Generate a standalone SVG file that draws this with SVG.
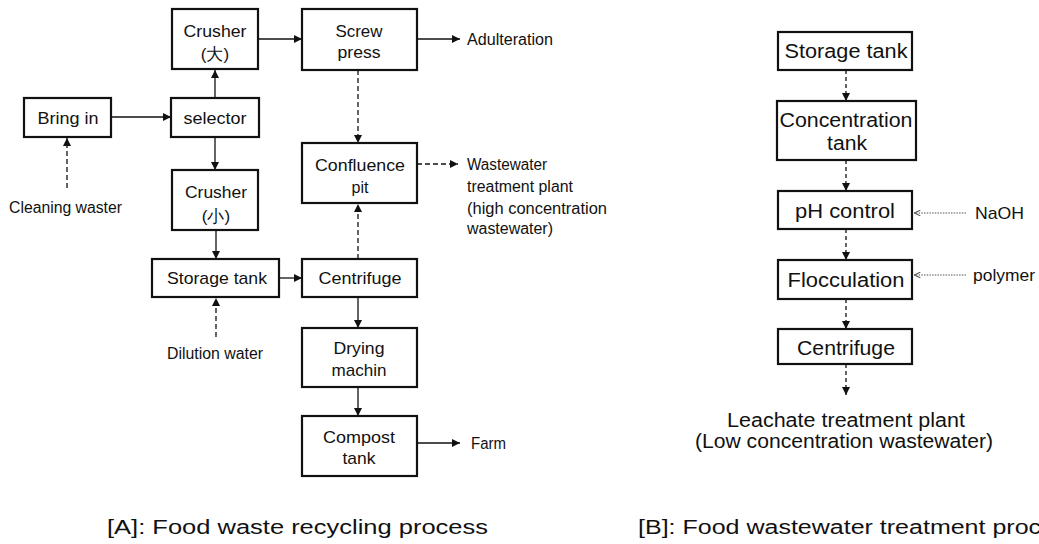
<svg xmlns="http://www.w3.org/2000/svg" width="1039" height="544" viewBox="0 0 1039 544">
<style>
  .box { fill: #fff; stroke: #111; stroke-width: 2.2; }
  .t { font-family: "Liberation Sans", Arial, sans-serif; font-size: 17px; fill: #111; text-anchor: middle; }
  .tb { font-family: "Liberation Sans", Arial, sans-serif; font-size: 20px; fill: #111; text-anchor: middle; }
  .lbl { font-family: "Liberation Sans", Arial, sans-serif; font-size: 16px; fill: #111; }
  .lblb { font-family: "Liberation Sans", Arial, sans-serif; font-size: 17px; fill: #111; }
  .cap { font-family: "Liberation Sans", Arial, sans-serif; font-size: 20px; fill: #111; }
  .ln { fill: none; stroke: #111; stroke-width: 1.3; marker-end: url(#ah); }
  .dash { fill: none; stroke: #111; stroke-width: 1.3; stroke-dasharray: 5 3; marker-end: url(#ah); }
  .dashb { fill: none; stroke: #111; stroke-width: 1.3; stroke-dasharray: 4 3; marker-end: url(#ah); }
  .dot { fill: none; stroke: #555; stroke-width: 1; stroke-dasharray: 1.5 1.2; marker-end: url(#ahs); }
</style>
<defs>
  <marker id="ah" viewBox="0 0 10 10" refX="10" refY="5" markerWidth="9" markerHeight="8" markerUnits="userSpaceOnUse" orient="auto">
    <path d="M0,0 L10,5 L0,10 z" fill="#111"/>
  </marker>
  <marker id="ahs" viewBox="0 0 10 10" refX="10" refY="5" markerWidth="7" markerHeight="7" markerUnits="userSpaceOnUse" orient="auto">
    <path d="M1,1 L10,5 L1,9" fill="none" stroke="#555" stroke-width="1.5"/>
  </marker>
</defs>

<g id="connectors">
  <!-- Part A -->
  <line class="ln" x1="111" y1="117" x2="171" y2="117"/>
  <line class="ln" x1="215" y1="98" x2="215" y2="70"/>
  <line class="ln" x1="215" y1="137" x2="215" y2="170"/>
  <line class="ln" x1="258" y1="39" x2="302" y2="39"/>
  <line class="ln" x1="417" y1="39" x2="460" y2="39"/>
  <line class="dash" x1="67" y1="188" x2="67" y2="138"/>
  <line class="dash" x1="358" y1="70" x2="358" y2="143"/>
  <line class="dash" x1="417" y1="164" x2="458" y2="164"/>
  <line class="ln" x1="216" y1="230" x2="216" y2="259"/>
  <line class="dash" x1="216" y1="337" x2="216" y2="298"/>
  <line class="ln" x1="279" y1="278" x2="302" y2="278"/>
  <line class="dash" x1="358" y1="259" x2="358" y2="204"/>
  <line class="ln" x1="358" y1="297" x2="358" y2="328"/>
  <line class="ln" x1="358" y1="387" x2="358" y2="416"/>
  <line class="ln" x1="417" y1="443" x2="460" y2="443"/>
  <!-- Part B -->
  <line class="dashb" x1="846" y1="70" x2="846" y2="101"/>
  <line class="dashb" x1="846" y1="160" x2="846" y2="191"/>
  <line class="dashb" x1="846" y1="229" x2="846" y2="260"/>
  <line class="dashb" x1="846" y1="299" x2="846" y2="329"/>
  <line class="dashb" x1="846" y1="364" x2="846" y2="395"/>
  <line class="dot" x1="966" y1="213" x2="914" y2="213"/>
  <line class="dot" x1="966" y1="275" x2="914" y2="275"/>
</g>

<!-- Part A nodes -->
<g id="a-crusher-large">
  <rect class="box" x="172" y="9" width="86" height="60"/>
  <text class="t" x="215" y="37" textLength="63" lengthAdjust="spacingAndGlyphs">Crusher</text>
  <text class="t" x="215" y="60" font-family="'Liberation Sans', 'Noto Sans CJK KR', sans-serif">(大)</text>
</g>
<g id="a-screw-press">
  <rect class="box" x="302" y="9" width="115" height="61"/>
  <text class="t" x="359" y="37" textLength="47" lengthAdjust="spacingAndGlyphs">Screw</text>
  <text class="t" x="359" y="58" textLength="43" lengthAdjust="spacingAndGlyphs">press</text>
</g>
<g id="a-bring-in">
  <rect class="box" x="24" y="98" width="87" height="39"/>
  <text class="t" x="68" y="124" textLength="61" lengthAdjust="spacingAndGlyphs">Bring in</text>
</g>
<g id="a-selector">
  <rect class="box" x="171" y="98" width="88" height="39"/>
  <text class="t" x="215" y="124" textLength="63" lengthAdjust="spacingAndGlyphs">selector</text>
</g>
<g id="a-crusher-small">
  <rect class="box" x="172" y="170" width="86" height="60"/>
  <text class="t" x="216" y="198" textLength="62" lengthAdjust="spacingAndGlyphs">Crusher</text>
  <text class="t" x="216" y="222" font-family="'Liberation Sans', 'Noto Sans CJK KR', sans-serif">(小)</text>
</g>
<g id="a-confluence-pit">
  <rect class="box" x="302" y="143" width="115" height="60"/>
  <text class="t" x="360" y="171" textLength="90" lengthAdjust="spacingAndGlyphs">Confluence</text>
  <text class="t" x="360" y="193" textLength="17" lengthAdjust="spacingAndGlyphs">pit</text>
</g>
<g id="a-storage-tank">
  <rect class="box" x="152" y="259" width="127" height="38"/>
  <text class="t" x="217" y="284" textLength="100" lengthAdjust="spacingAndGlyphs">Storage tank</text>
</g>
<g id="a-centrifuge">
  <rect class="box" x="302" y="259" width="115" height="38"/>
  <text class="t" x="360" y="284" textLength="83" lengthAdjust="spacingAndGlyphs">Centrifuge</text>
</g>
<g id="a-drying-machin">
  <rect class="box" x="302" y="328" width="115" height="59"/>
  <text class="t" x="359" y="354" textLength="51" lengthAdjust="spacingAndGlyphs">Drying</text>
  <text class="t" x="359" y="376" textLength="55" lengthAdjust="spacingAndGlyphs">machin</text>
</g>
<g id="a-compost-tank">
  <rect class="box" x="302" y="416" width="115" height="60"/>
  <text class="t" x="359" y="443" textLength="72" lengthAdjust="spacingAndGlyphs">Compost</text>
  <text class="t" x="359" y="464" textLength="33" lengthAdjust="spacingAndGlyphs">tank</text>
</g>

<!-- Part A labels -->
<g id="a-cleaning-waster">
  <text class="lbl" x="9" y="213" textLength="113" lengthAdjust="spacingAndGlyphs">Cleaning waster</text>
</g>
<g id="a-adulteration">
  <text class="lbl" x="467" y="45" textLength="86" lengthAdjust="spacingAndGlyphs">Adulteration</text>
</g>
<g id="a-wastewater-plant">
  <text class="lbl" x="467" y="170" textLength="80" lengthAdjust="spacingAndGlyphs">Wastewater</text>
  <text class="lbl" x="467" y="192" textLength="106" lengthAdjust="spacingAndGlyphs">treatment plant</text>
  <text class="lbl" x="467" y="214" textLength="140" lengthAdjust="spacingAndGlyphs">(high concentration</text>
  <text class="lbl" x="467" y="234" textLength="86" lengthAdjust="spacingAndGlyphs">wastewater)</text>
</g>
<g id="a-dilution-water">
  <text class="lbl" x="167" y="359" textLength="96" lengthAdjust="spacingAndGlyphs">Dilution water</text>
</g>
<g id="a-farm">
  <text class="lbl" x="471" y="449" textLength="35" lengthAdjust="spacingAndGlyphs">Farm</text>
</g>

<!-- Part B nodes -->
<g id="b-storage-tank">
  <rect class="box" x="778" y="32" width="134" height="38"/>
  <text class="tb" x="846" y="58" textLength="123" lengthAdjust="spacingAndGlyphs">Storage tank</text>
</g>
<g id="b-concentration-tank">
  <rect class="box" x="777" y="101" width="139" height="59"/>
  <text class="tb" x="846" y="127" textLength="133" lengthAdjust="spacingAndGlyphs">Concentration</text>
  <text class="tb" x="847" y="150" textLength="40" lengthAdjust="spacingAndGlyphs">tank</text>
</g>
<g id="b-ph-control">
  <rect class="box" x="778" y="191" width="134" height="38"/>
  <text class="tb" x="845" y="218" textLength="100" lengthAdjust="spacingAndGlyphs">pH control</text>
</g>
<g id="b-flocculation">
  <rect class="box" x="778" y="260" width="134" height="39"/>
  <text class="tb" x="846" y="287" textLength="117" lengthAdjust="spacingAndGlyphs">Flocculation</text>
</g>
<g id="b-centrifuge">
  <rect class="box" x="778" y="329" width="134" height="35"/>
  <text class="tb" x="846" y="355" textLength="98" lengthAdjust="spacingAndGlyphs">Centrifuge</text>
</g>

<!-- Part B labels -->
<g id="b-naoh">
  <text class="lblb" x="975" y="219" textLength="49" lengthAdjust="spacingAndGlyphs">NaOH</text>
</g>
<g id="b-polymer">
  <text class="lblb" x="973" y="281" textLength="62" lengthAdjust="spacingAndGlyphs">polymer</text>
</g>
<g id="b-leachate-plant">
  <text class="tb" x="846" y="427" textLength="238" lengthAdjust="spacingAndGlyphs">Leachate treatment plant</text>
  <text class="tb" x="844" y="448" textLength="298" lengthAdjust="spacingAndGlyphs">(Low concentration wastewater)</text>
</g>

<!-- Captions -->
<g id="captions">
  <text class="cap" x="107" y="534" textLength="381" lengthAdjust="spacingAndGlyphs">[A]: Food waste recycling process</text>
  <text class="cap" x="638" y="534" textLength="442" lengthAdjust="spacingAndGlyphs">[B]: Food wastewater treatment process</text>
</g>
</svg>
